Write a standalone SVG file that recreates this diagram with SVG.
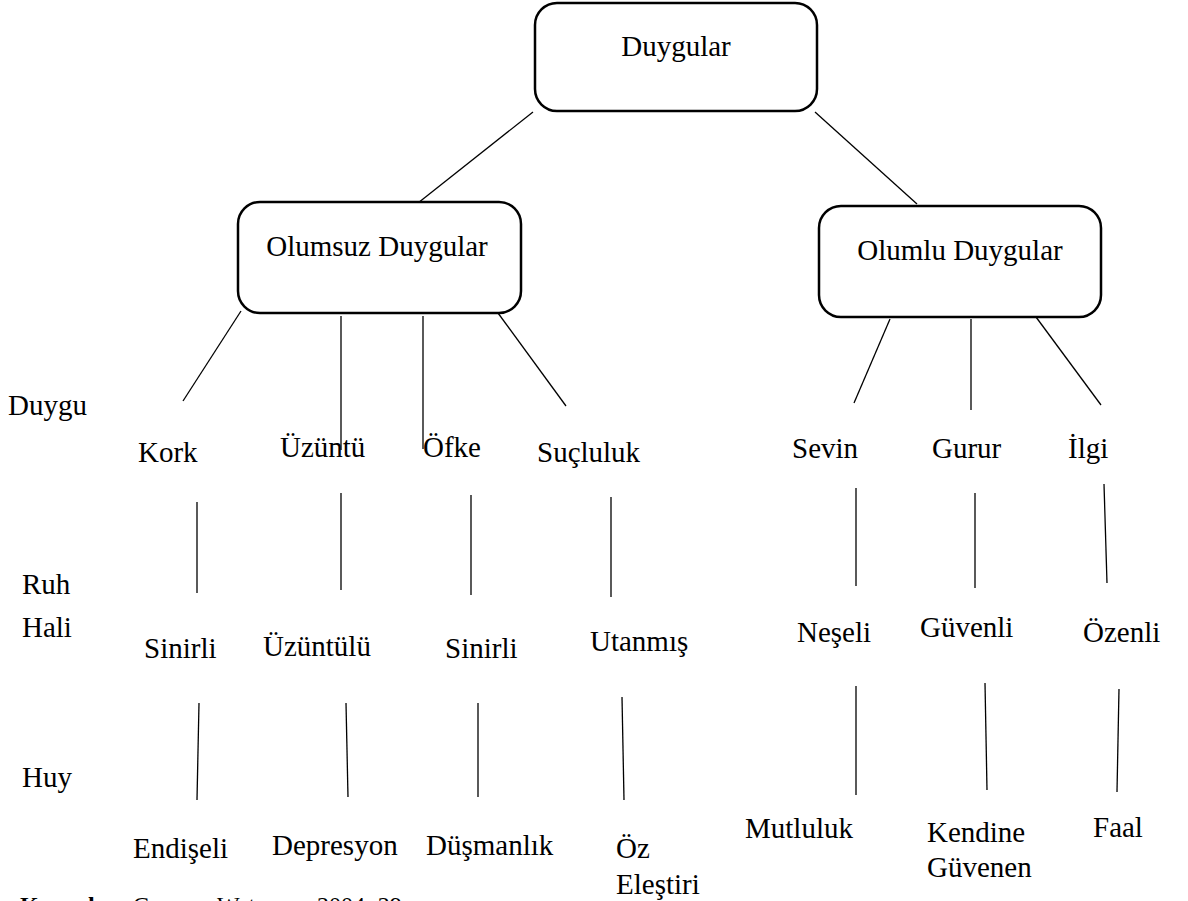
<svg xmlns="http://www.w3.org/2000/svg" width="1188" height="901" viewBox="0 0 1188 901">
<style>
.box{fill:#fff;stroke:#000;stroke-width:2.5}
.t{font-family:"Liberation Serif","Times New Roman",serif;font-size:29px;fill:#000}
.c{text-anchor:middle}
.ln{stroke:#000;stroke-width:1.3;fill:none}
.cap{font-family:"Liberation Serif","Times New Roman",serif;font-size:24px;fill:#000}
</style>
<rect width="1188" height="901" fill="#fff"/>
<g id="connectors">
<line class="ln" x1="533" y1="112" x2="418" y2="203"/>
<line class="ln" x1="815" y1="112" x2="917" y2="204"/>
<line class="ln" x1="241" y1="311" x2="183" y2="401"/>
<line class="ln" x1="341" y1="316" x2="341" y2="450"/>
<line class="ln" x1="423" y1="316" x2="423" y2="449"/>
<line class="ln" x1="498" y1="313" x2="566" y2="406"/>
<line class="ln" x1="890" y1="319" x2="854" y2="403"/>
<line class="ln" x1="971" y1="319" x2="971" y2="410"/>
<line class="ln" x1="1036" y1="317" x2="1101" y2="405"/>
<line class="ln" x1="197" y1="502" x2="197" y2="593"/>
<line class="ln" x1="341" y1="493" x2="341" y2="590"/>
<line class="ln" x1="471" y1="495" x2="471" y2="595"/>
<line class="ln" x1="611" y1="497" x2="611" y2="597"/>
<line class="ln" x1="856" y1="488" x2="856" y2="586"/>
<line class="ln" x1="975" y1="493" x2="975" y2="588"/>
<line class="ln" x1="1104" y1="484" x2="1107" y2="583"/>
<line class="ln" x1="199" y1="703" x2="197" y2="800"/>
<line class="ln" x1="346" y1="703" x2="348" y2="797"/>
<line class="ln" x1="478" y1="703" x2="478" y2="797"/>
<line class="ln" x1="622" y1="697" x2="624" y2="800"/>
<line class="ln" x1="856" y1="686" x2="856" y2="795"/>
<line class="ln" x1="985" y1="683" x2="987" y2="790"/>
<line class="ln" x1="1119" y1="689" x2="1117" y2="792"/>
</g>
<g id="n-duygular"><rect class="box" x="535" y="3" width="282" height="108" rx="22"/><text class="t c" x="676" y="56">Duygular</text></g>
<g id="n-olumsuz"><rect class="box" x="238" y="202" width="283" height="111" rx="22"/><text class="t c" x="377" y="256">Olumsuz Duygular</text></g>
<g id="n-olumlu"><rect class="box" x="819" y="206" width="282" height="111" rx="22"/><text class="t c" x="960" y="260">Olumlu Duygular</text></g>
<g id="labels">
<text class="t" x="8" y="415">Duygu</text>
<text class="t" x="22" y="594">Ruh</text>
<text class="t" x="22" y="637">Hali</text>
<text class="t" x="22" y="787">Huy</text>
</g>
<g id="n-kork"><text class="t" x="138" y="462">Kork</text></g>
<g id="n-uzuntu"><text class="t" x="280" y="457">Üzüntü</text></g>
<g id="n-ofke"><text class="t" x="423" y="457">Öfke</text></g>
<g id="n-sucluluk"><text class="t" x="537" y="462">Suçluluk</text></g>
<g id="n-sevin"><text class="t" x="792" y="458">Sevin</text></g>
<g id="n-gurur"><text class="t" x="932" y="458">Gurur</text></g>
<g id="n-ilgi"><text class="t" x="1068" y="458">İlgi</text></g>
<g id="n-sinirli1"><text class="t" x="144" y="658">Sinirli</text></g>
<g id="n-uzuntulu"><text class="t" x="263" y="656">Üzüntülü</text></g>
<g id="n-sinirli2"><text class="t" x="445" y="658">Sinirli</text></g>
<g id="n-utanmis"><text class="t" x="590" y="651">Utanmış</text></g>
<g id="n-neseli"><text class="t" x="797" y="642">Neşeli</text></g>
<g id="n-guvenli"><text class="t" x="920" y="637">Güvenli</text></g>
<g id="n-ozenli"><text class="t" x="1083" y="642">Özenli</text></g>
<g id="n-endiseli"><text class="t" x="133" y="858">Endişeli</text></g>
<g id="n-depresyon"><text class="t" x="272" y="855">Depresyon</text></g>
<g id="n-dusmanlik"><text class="t" x="426" y="855">Düşmanlık</text></g>
<g id="n-ozelestiri"><text class="t" x="616" y="858">Öz</text><text class="t" x="616" y="894">Eleştiri</text></g>
<g id="n-mutluluk"><text class="t" x="745" y="838">Mutluluk</text></g>
<g id="n-kendine"><text class="t" x="927" y="842">Kendine</text><text class="t" x="927" y="877">Güvenen</text></g>
<g id="n-faal"><text class="t" x="1093" y="837">Faal</text></g>
<g id="caption"><text class="cap" y="913"><tspan x="20" font-weight="bold">Kaynak:</tspan><tspan x="133">Carr ve</tspan><tspan x="217">Watson,</tspan><tspan x="317">2004: 29</tspan></text></g>
</svg>
